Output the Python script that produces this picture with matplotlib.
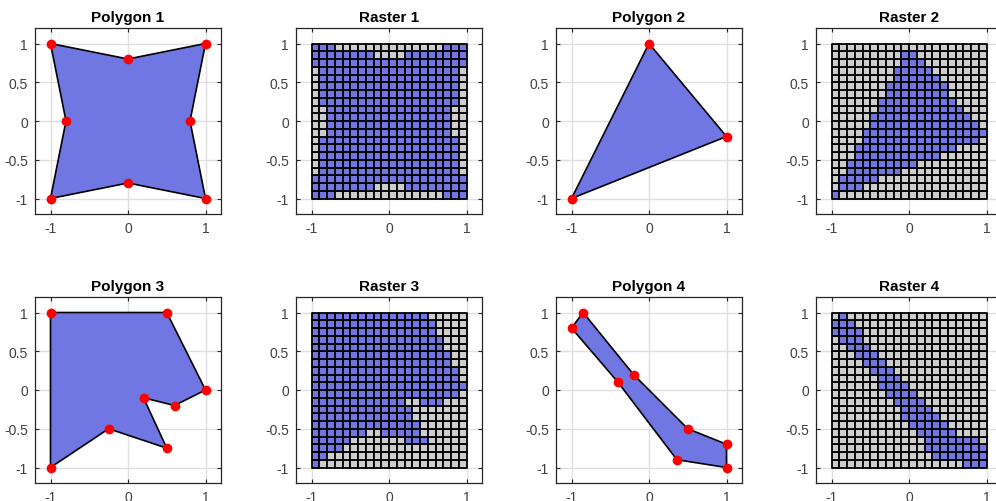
import numpy as np
import matplotlib
matplotlib.use("Agg")
import matplotlib.pyplot as plt
from matplotlib.path import Path
from matplotlib.patches import Polygon, Rectangle
from matplotlib.collections import PatchCollection

plt.rcParams["font.family"] = ["Liberation Sans", "DejaVu Sans"]

# Polygon vertices (x, y)
poly1_x = [-1.0, 0.0, 1.0, 0.8, 1.0, 0.0, -1.0, -0.8]
poly1_y = [1.0, 0.8, 1.0, 0.0, -1.0, -0.8, -1.0, 0.0]

poly2_x = [-1.0, 0.0, 1.0]
poly2_y = [-1.0, 1.0, -0.2]

poly3_x = [-1.0, 0.5, 1.0, 0.6, 0.2, 0.5, -0.25, -1.0]
poly3_y = [1.0, 1.0, 0.0, -0.2, -0.1, -0.75, -0.5, -1.0]

poly4_x = [-1.0, -0.85, -0.2, 0.5, 1.0, 1.0, 0.36, -0.4]
poly4_y = [0.8, 1.0, 0.2, -0.5, -0.7, -1.0, -0.9, 0.1]

polygons = [(poly1_x, poly1_y), (poly2_x, poly2_y),
            (poly3_x, poly3_y), (poly4_x, poly4_y)]

# Raster grid: 20 x 20 cells covering [-1, 1] x [-1, 1]
n_cells = 20
grid_min, grid_max = -1.0, 1.0

x_ticks = [-1, 0, 1]
y_ticks = [-1, -0.5, 0, 0.5, 1]
y_tick_labels = ["-1", "-0.5", "0", "0.5", "1"]

fill_color = "#7077E2"
empty_color = "#CDCDCD"
axis_color = "#262626"
grid_color = "#DFDFDF"


def inside_mask(px, py, vx, vy, tol=1e-9):
    """Point-in-polygon test that counts points on an edge as inside."""
    verts = np.column_stack([vx, vy])
    pts = np.column_stack([px, py])
    inside = Path(np.vstack([verts, verts[:1]]), closed=True).contains_points(pts)
    a = verts
    b = np.roll(verts, -1, axis=0)
    for p0, p1 in zip(a, b):
        d = p1 - p0
        t = np.clip(((pts - p0) @ d) / (d @ d), 0, 1)
        proj = p0 + t[:, None] * d
        dist = np.hypot(*(pts - proj).T)
        inside |= dist < tol
    return inside


def style_axes(ax):
    ax.set_xlim(-1.2, 1.2)
    ax.set_ylim(-1.2, 1.2)
    ax.set_aspect("equal")
    ax.set_xticks(x_ticks)
    ax.set_xticklabels([str(v) for v in x_ticks])
    ax.set_yticks(y_ticks)
    ax.set_yticklabels(y_tick_labels)
    ax.grid(True, color=grid_color, linewidth=1.0, zorder=0)
    ax.set_axisbelow(True)
    ax.tick_params(direction="in", length=3, width=0.8, colors=axis_color,
                   labelsize=10, labelcolor="#404040", top=True, right=True,
                   pad=5)
    for s in ax.spines.values():
        s.set_color(axis_color)
        s.set_linewidth(0.9)


W, H = 996, 502
fig = plt.figure(figsize=(W / 100, H / 100), dpi=100)

ax_w, ax_h = 186, 186
lefts = [35, 296, 556, 816]
tops = [29, 298]

for i, (vx, vy) in enumerate(polygons):
    row = i // 2
    col_poly = (i % 2) * 2
    col_rast = col_poly + 1
    top = tops[row]

    # polygon panel
    ax = fig.add_axes([lefts[col_poly] / W, 1 - (top + ax_h) / H, ax_w / W, ax_h / H])
    style_axes(ax)
    ax.add_patch(Polygon(np.column_stack([vx, vy]), closed=True,
                         facecolor=fill_color, edgecolor="black",
                         linewidth=1.2, zorder=2))
    ax.plot(vx, vy, "o", color="red", markersize=6, zorder=3)
    ax.set_title(f"Polygon {i + 1}", fontsize=11, fontweight="bold", pad=5)

    # raster panel
    ax = fig.add_axes([lefts[col_rast] / W, 1 - (top + ax_h) / H, ax_w / W, ax_h / H])
    style_axes(ax)
    edges = np.linspace(grid_min, grid_max, n_cells + 1)
    centers = (edges[:-1] + edges[1:]) / 2
    cx, cy = np.meshgrid(centers, centers)
    mask = inside_mask(cx.ravel(), cy.ravel(), vx, vy)
    step = edges[1] - edges[0]
    rects = [Rectangle((x - step / 2, y - step / 2), step, step)
             for x, y in zip(cx.ravel(), cy.ravel())]
    colors = [fill_color if m else empty_color for m in mask]
    pc = PatchCollection(rects, facecolors=colors, edgecolors="black",
                         linewidths=1.3, zorder=2)
    ax.add_collection(pc)
    ax.set_title(f"Raster {i + 1}", fontsize=11, fontweight="bold", pad=5)

fig.savefig("out.png", dpi=100)
